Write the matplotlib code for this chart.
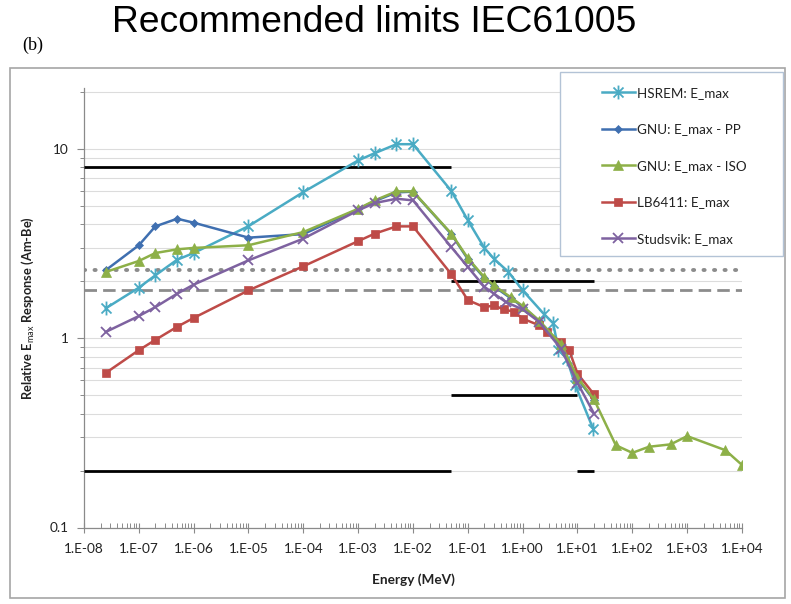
import math
import matplotlib
matplotlib.use("Agg")
import matplotlib.pyplot as plt
from matplotlib.path import Path
from matplotlib.patches import Rectangle
from matplotlib.ticker import FixedLocator, NullFormatter, FuncFormatter

# ---- data -------------------------------------------------------------
hsrem_e = [2.5e-8, 1e-7, 2e-7, 5e-7, 1e-6, 1e-5, 1e-4, 1e-3, 2e-3, 5e-3, 1e-2,
           0.05, 0.1, 0.2, 0.3, 0.55, 1.0, 2.4, 3.6, 4.5, 6.4, 9.1, 19.5]
hsrem_r = [1.44, 1.85, 2.15, 2.6, 2.82, 3.91, 5.92, 8.7, 9.5, 10.6, 10.6,
           6.0, 4.2, 3.0, 2.63, 2.24, 1.79, 1.35, 1.2, 0.87, 0.78, 0.565, 0.33]

gnu_pp_e = [2.5e-8, 1e-7, 2e-7, 5e-7, 1e-6, 1e-5, 1e-4, 1e-3, 2e-3, 5e-3, 1e-2,
            0.05, 0.1, 0.2, 0.3, 0.6, 1.0, 2.0, 5.0, 10.0, 20.0]
gnu_pp_r = [2.29, 3.1, 3.9, 4.28, 4.08, 3.4, 3.55, 4.8, 5.3, 5.9, 5.95,
            3.55, 2.62, 2.08, 1.88, 1.63, 1.47, 1.23, 0.92, 0.61, 0.47]

gnu_iso_e = [2.5e-8, 1e-7, 2e-7, 5e-7, 1e-6, 1e-5, 1e-4, 1e-3, 2e-3, 5e-3, 1e-2,
             0.05, 0.1, 0.2, 0.3, 0.6, 1.0, 2.0, 5.0, 10.0, 20.0,
             50.0, 100.0, 200.0, 500.0, 1000.0, 5000.0, 10000.0]
gnu_iso_r = [2.24, 2.56, 2.82, 2.95, 3.0, 3.1, 3.64, 4.83, 5.35, 5.97, 5.97,
             3.57, 2.65, 2.1, 1.9, 1.65, 1.48, 1.24, 0.93, 0.62, 0.475,
             0.272, 0.248, 0.267, 0.275, 0.304, 0.256, 0.214]

lb6411_e = [2.5e-8, 1e-7, 2e-7, 5e-7, 1e-6, 1e-5, 1e-4, 1e-3, 2e-3, 5e-3, 1e-2,
            0.05, 0.1, 0.2, 0.3, 0.45, 0.7, 1.0, 2.0, 2.8, 5.0, 7.0, 10.0, 20.0]
lb6411_r = [0.656, 0.865, 0.98, 1.15, 1.28, 1.79, 2.4, 3.26, 3.57, 3.9, 3.9,
            2.18, 1.59, 1.46, 1.49, 1.42, 1.38, 1.27, 1.17, 1.08, 0.956, 0.87, 0.65, 0.505]

studsvik_e = [2.5e-8, 1e-7, 2e-7, 5e-7, 1e-6, 1e-5, 1e-4, 1e-3, 2e-3, 5e-3, 1e-2,
              0.05, 0.1, 0.2, 0.3, 0.5, 1.0, 2.0, 5.0, 10.0, 20.0]
studsvik_r = [1.08, 1.31, 1.46, 1.72, 1.92, 2.58, 3.36, 4.74, 5.18, 5.46, 5.35,
              3.03, 2.38, 1.87, 1.72, 1.55, 1.42, 1.22, 0.88, 0.58, 0.40]

# IEC 61005 recommended limits: (E start, E end, response)
limit_segments = [(1e-8, 0.05, 8.0), (1e-8, 0.05, 0.2),
                  (0.05, 20.0, 2.0), (0.05, 10.0, 0.5), (10.0, 20.0, 0.2)]
dotted_level = 2.3
dashed_level = 1.8

series_labels = ["HSREM: E_max", "GNU: E_max - PP", "GNU: E_max - ISO",
                 "LB6411: E_max", "Studsvik: E_max"]
x_decades = list(range(-8, 5))

# ---- figure ----------------------------------------------------------------
W, H = 791, 604
fig = plt.figure(figsize=(W / 100, H / 100), dpi=100)
fig.patch.set_facecolor("white")

ax = fig.add_axes([84 / W, 1 - 527.5 / H, (742 - 84) / W, (527.5 - 88) / H])
ax.set_xscale("log")
ax.set_yscale("log")
ax.set_xlim(1e-8, 1e4)
ax.set_ylim(0.1, 21)

star = Path([(0, -1), (0, 1), (-0.72, -0.72), (0.72, 0.72), (-0.72, 0.72), (0.72, -0.72)],
            [Path.MOVETO, Path.LINETO] * 3)

styles = [
    dict(color="#4AABC4", marker=star, ms=10, mew=1.3, hollow=True),
    dict(color="#3F6FB0", marker="D", ms=4.5, mew=0.5, hollow=False),
    dict(color="#8DB048", marker="^", ms=6.5, mew=0.5, hollow=False),
    dict(color="#BE4B48", marker="s", ms=6, mew=0.5, hollow=False),
    dict(color="#7E62A0", marker="x", ms=7.5, mew=1.3, hollow=True),
]
data = [(hsrem_e, hsrem_r), (gnu_pp_e, gnu_pp_r), (gnu_iso_e, gnu_iso_r),
        (lb6411_e, lb6411_r), (studsvik_e, studsvik_r)]
zorders = [4, 4, 5, 4, 5]

# horizontal gridlines at major and minor decades
ax.yaxis.grid(True, which="both", color="#dcdcdc", lw=0.8)
ax.xaxis.grid(False, which="both")
ax.set_axisbelow(True)

# reference levels
ax.axhline(dotted_level, color="#8c8c8c", lw=2.8, ls=(0, (0.3, 2.4)),
           dash_capstyle="round", zorder=2)
ax.axhline(dashed_level, color="#8c8c8c", lw=2.0, ls=(0, (4.5, 2.2)), zorder=2)
for e0, e1, r in limit_segments:
    ax.plot([e0, e1], [r, r], color="black", lw=2.0, solid_capstyle="butt", zorder=3)

handles = []
for (e, r), st, z in zip(data, styles, zorders):
    ln, = ax.plot(e, r, lw=1.8, color=st["color"], marker=st["marker"],
                  markersize=st["ms"], markeredgewidth=st["mew"],
                  markerfacecolor="none" if st["hollow"] else st["color"],
                  markeredgecolor=st["color"], zorder=z)
    handles.append(ln)

# axes
for side in ("top", "right"):
    ax.spines[side].set_visible(False)
for side in ("left", "bottom"):
    ax.spines[side].set_color("#8a8a8a")
    ax.spines[side].set_linewidth(0.9)

ax.xaxis.set_major_locator(FixedLocator([10.0 ** k for k in x_decades]))
ax.xaxis.set_minor_locator(FixedLocator([m * 10.0 ** k for k in x_decades[:-1] for m in range(2, 10)]))
ax.xaxis.set_major_formatter(FuncFormatter(lambda v, p: "1.E%+03d" % round(math.log10(v))))
ax.xaxis.set_minor_formatter(NullFormatter())
ax.yaxis.set_major_locator(FixedLocator([0.1, 1, 10]))
ax.yaxis.set_minor_locator(FixedLocator([m * 10.0 ** k for k in (-1, 0, 1) for m in range(2, 10)]))
ax.yaxis.set_major_formatter(FuncFormatter(lambda v, p: {0.1: "0.1", 1.0: "1", 10.0: "10"}.get(round(v, 3), "")))
ax.yaxis.set_minor_formatter(NullFormatter())

ax.tick_params(axis="x", which="major", direction="inout", length=7, width=0.8,
               color="#8a8a8a", pad=8)
ax.tick_params(axis="x", which="minor", direction="in", length=3.5, width=0.7, color="#8a8a8a")
ax.tick_params(axis="y", which="major", direction="out", length=5, width=0.8,
               color="#8a8a8a", pad=6)
ax.tick_params(axis="y", which="minor", direction="out", length=3, width=0.7, color="#8a8a8a")
for lab in ax.get_xticklabels() + ax.get_yticklabels():
    lab.set_fontfamily("Lato")
    lab.set_fontsize(9.8)
    lab.set_color("#222222")

plt.rcParams["mathtext.fontset"] = "custom"
plt.rcParams["mathtext.rm"] = "Lato"
plt.rcParams["mathtext.bf"] = "Lato:bold"
fig.text(413 / W, 1 - 580 / H, "Energy (MeV)", ha="center", va="center",
         family="Lato", weight="bold", size=9.8, color="#222222")
fig.text(28 / W, 1 - 308 / H, r"Relative E$_{\mathrm{max}}$ Response (Am-Be)",
         ha="center", va="center", rotation=90, family="Lato", weight="bold",
         size=9.3, color="#222222")

# titles
fig.text(374 / W, 1 - 23 / H, "Recommended limits IEC61005", ha="center", va="center",
         family="Liberation Sans", size=26.8, color="black")
fig.text(33 / W, 1 - 45 / H, "(b)", ha="center", va="center",
         family="Liberation Serif", size=13, color="black")

# chart frame and legend frame
fig.patches.append(Rectangle((10 / W, 1 - 598 / H), 775 / W, 530 / H,
                             transform=fig.transFigure, fill=False,
                             edgecolor="#a6a6a6", lw=1.2, zorder=0.5))
fig.patches.append(Rectangle((560 / W, 1 - 256 / H), 223 / W, 184 / H,
                             transform=fig.transFigure, facecolor="white",
                             edgecolor="#b3c3d6", lw=1.0, zorder=10))

leg = fig.legend(handles, series_labels, loc="upper left",
                 bbox_to_anchor=(595 / W, 1 - 80 / H), bbox_transform=fig.transFigure,
                 frameon=False, borderpad=0, handlelength=2.45, handletextpad=0.2,
                 labelspacing=1.82, prop=dict(family="Lato", size=9.7))
leg.set_zorder(20)
for t in leg.get_texts():
    t.set_color("#222222")

fig.savefig("out.png", dpi=100, facecolor="white")
